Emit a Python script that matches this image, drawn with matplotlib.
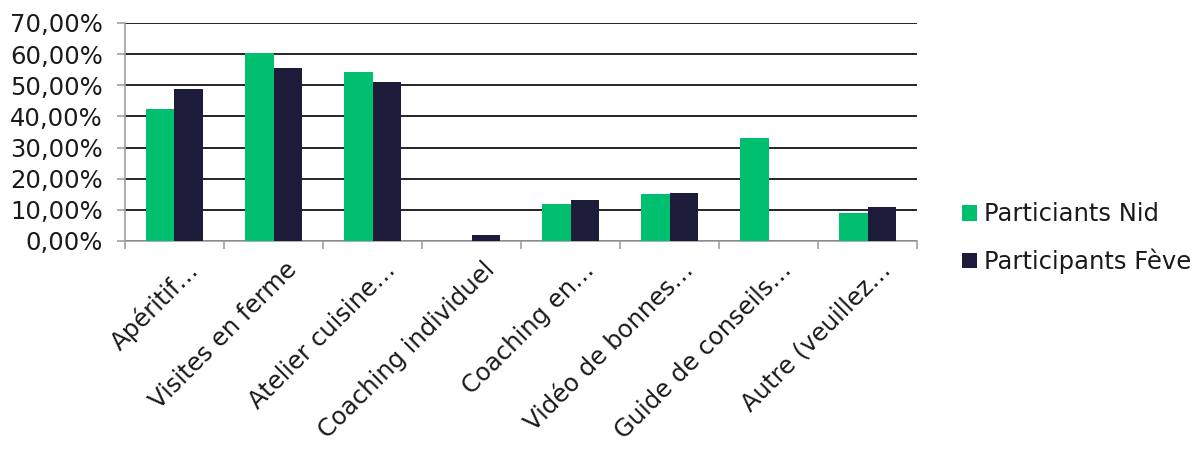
import numpy as np
import matplotlib
matplotlib.use('Agg')
from matplotlib import pyplot as plt
from matplotlib.ticker import FuncFormatter
from matplotlib.transforms import ScaledTranslation

plt.rcParams['font.family'] = ['DejaVu Sans']

categories = ['Apéritif…', 'Visites en ferme', 'Atelier cuisine…', 'Coaching individuel',
              'Coaching en…', 'Vidéo de bonnes…', 'Guide de conseils…', 'Autre (veuillez…']
nid = [42.4, 60.5, 54.4, 0.0, 11.9, 15.0, 33.2, 8.9]
feve = [48.8, 55.5, 51.1, 2.0, 13.1, 15.4, 0.0, 10.8]
series_names = ['Particiants Nid', 'Participants Fève']

green = '#00bf6f'
navy = '#1c1c3a'
txt = '#1a1a1a'
fs = 17.5

fig = plt.figure(figsize=(12.04, 4.58), dpi=100)
ax = fig.add_axes([0.1038, 0.4738, 0.658, 0.476])

x = np.arange(len(categories))
w = 0.285
ax.bar(x - w / 2, nid, w, color=green, label=series_names[0], zorder=3)
ax.bar(x + w / 2, feve, w, color=navy, label=series_names[1], zorder=3)

ax.set_xlim(-0.5, len(categories) - 0.5)
ax.set_ylim(0, 70)
ax.set_yticks(np.arange(0, 71, 10))
ax.yaxis.set_major_formatter(FuncFormatter(lambda v, p: f'{v:.2f}%'.replace('.', ',')))
ax.yaxis.grid(True, color='black', linewidth=1.2, zorder=0)

for s in ['top', 'right']:
    ax.spines[s].set_visible(False)
ax.spines['left'].set_color('#a0a0a0')
ax.spines['bottom'].set_color('#a0a0a0')
ax.spines['left'].set_linewidth(1.2)
ax.spines['bottom'].set_linewidth(1.2)

# category separators as ticks, names as rotated text under each group
ax.set_xticks(np.arange(len(categories) + 1) - 0.5)
ax.set_xticklabels([])
ax.tick_params(axis='x', length=6, color='#a0a0a0', width=1.2)
ax.tick_params(axis='y', length=6, color='#a0a0a0', width=1.2, labelsize=fs,
               labelcolor=txt, direction='out', pad=10)

offset = ScaledTranslation(8 / 72, -12 / 72, fig.dpi_scale_trans)
for i, name in enumerate(categories):
    ax.text(i, 0, name, rotation=45, ha='right', va='top', rotation_mode='anchor',
            fontsize=fs, color=txt, transform=ax.get_xaxis_transform() + offset)

leg = fig.legend(loc='center left', bbox_to_anchor=(0.781, 0.48), frameon=False,
                 fontsize=fs, handlelength=0.6, handleheight=0.6,
                 handletextpad=0.3, labelspacing=0.9)
for t in leg.get_texts():
    t.set_color(txt)

fig.savefig('out.png', dpi=100)
